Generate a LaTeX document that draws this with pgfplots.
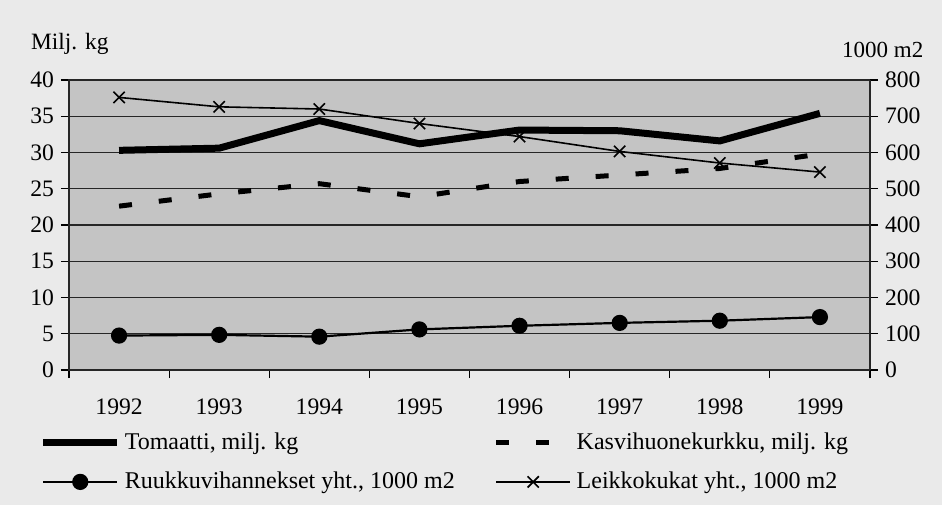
\documentclass[border=0pt]{standalone}
\usepackage{fontspec}
\setmainfont{Liberation Serif}
\usepackage{pgfplots}
\pgfplotsset{compat=1.18}
\definecolor{outerbg}{RGB}{234,234,234}
\definecolor{plotbg}{RGB}{196,196,196}
\begin{document}
\begin{tikzpicture}
\fill[outerbg] (-34.5pt,-67.5pt) rectangle (436.5pt,185pt);
\pgfplotsset{
  common/.style={
    scale only axis, width=400.5pt, height=145pt,
    xmin=-0.5, xmax=7.5,
    /pgf/number format/assume math mode=true,
    tick style={black, line width=0.6pt},
    major tick length=4pt,
    tick align=outside,
    ticklabel style={font=\fontsize{11.8}{13}\selectfont},
  }
}
\begin{axis}[common,
  ymin=0, ymax=40, ytick={0,5,...,40},
  xtick={-0.5,0.5,1.5,2.5,3.5,4.5,5.5,6.5,7.5},
  x tick label as interval,
  xticklabels={1992,1993,1994,1995,1996,1997,1998,1999},
  tick pos=left,
  ymajorgrids, grid style={black!85, line width=0.6pt},
  axis line style={black!85, line width=0.7pt},
  axis background/.style={fill=plotbg},
  xticklabel style={yshift=-7pt},
]
\addplot[black, line width=3.5pt, line join=round] coordinates {(0,30.3)(1,30.6)(2,34.4)(3,31.2)(4,33.1)(5,33.0)(6,31.6)(7,35.4)};
\addplot[black, line width=2.5pt, dash pattern=on 6.5pt off 13.5pt] coordinates {(0,22.6)(1,24.3)(2,25.7)(3,23.9)(4,26.0)(5,26.9)(6,27.8)(7,29.8)};
\end{axis}
\begin{axis}[common,
  clip=false,
  ymin=0, ymax=800, ytick={0,100,...,800},
  axis y line*=right, axis x line=none,
  axis line style={black!85, line width=0.7pt},
  legend style={at={(rel axis cs:-0.037,-0.2)}, anchor=north west, draw=none, fill=none,
    font=\fontsize{12}{13}\selectfont, row sep=6pt, inner sep=0pt,
    /tikz/every even column/.append style={column sep=17.5pt}},
  legend cell align=left,
  legend columns=2,
  legend image code/.code={\draw[mark repeat=2,mark phase=2,#1] plot coordinates {(0pt,0pt) (18.5pt,0pt) (37pt,0pt)};},
]
\addlegendimage{black, line width=3.5pt}
\addlegendentry{Tomaatti, milj. kg}
\addlegendimage{black, line width=2.5pt, dash pattern=on 6.5pt off 13.5pt}
\addlegendentry{Kasvihuonekurkku, milj. kg}
\addplot[black, line width=1.1pt, mark=*, mark size=3.5pt] coordinates {(0,95)(1,97)(2,92)(3,112)(4,122)(5,130)(6,136)(7,146)};
\addlegendentry{Ruukkuvihannekset yht., 1000 m2}
\addplot[black, line width=0.8pt, mark=x, mark size=4pt] coordinates {(0,752)(1,726)(2,720)(3,680)(4,644)(5,603)(6,571)(7,546)};
\addlegendentry{Leikkokukat yht., 1000 m2}
\node[font=\fontsize{11.7}{13}\selectfont] at (axis description cs:0.001,1.125) {Milj. kg};
\node[font=\fontsize{11.5}{13}\selectfont] at (axis description cs:1.016,1.105) {1000 m2};
\end{axis}
\end{tikzpicture}
\end{document}
